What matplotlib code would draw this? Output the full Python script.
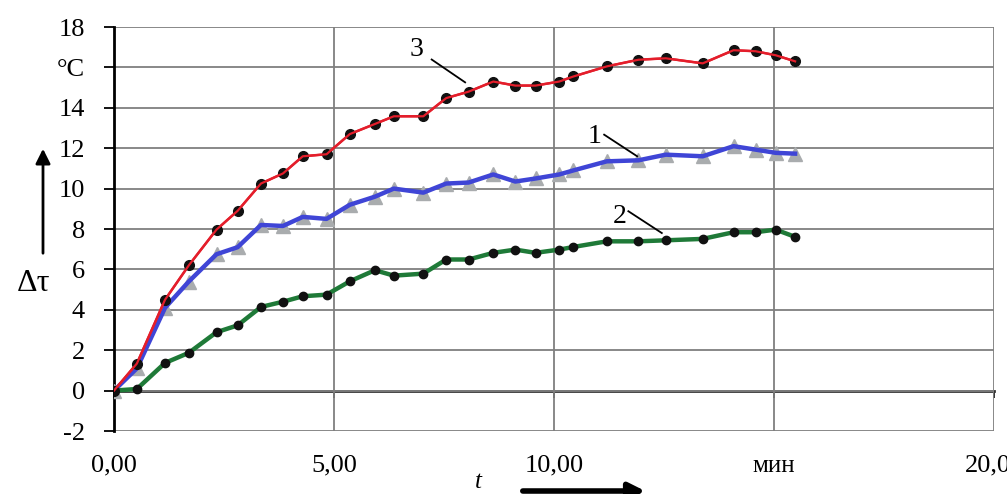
import matplotlib
matplotlib.use("Agg")
import matplotlib.pyplot as plt
from matplotlib.patches import FancyArrowPatch

plt.rcParams['font.family'] = ['Liberation Serif', 'DejaVu Serif']

# time, min
t = [0.00, 0.52, 1.16, 1.70, 2.33, 2.81, 3.34, 3.84, 4.29, 4.83, 5.36, 5.93,
     6.36, 7.03, 7.55, 8.06, 8.62, 9.12, 9.58, 10.12, 10.44, 11.20, 11.92,
     12.54, 13.38, 14.08, 14.58, 15.04, 15.48]

# temperature rise, degrees C
curve1 = [0.0, 1.1, 4.1, 5.4, 6.75, 7.1, 8.2, 8.15, 8.6, 8.5, 9.2, 9.6,
          10.0, 9.8, 10.25, 10.3, 10.7, 10.35, 10.5, 10.7, 10.9, 11.35, 11.4,
          11.68, 11.6, 12.1, 11.93, 11.77, 11.73]
curve2 = [0.0, 0.08, 1.37, 1.87, 2.89, 3.23, 4.14, 4.4, 4.67, 4.75, 5.41, 5.96,
          5.69, 5.79, 6.49, 6.49, 6.82, 6.98, 6.82, 6.98, 7.11, 7.39, 7.39,
          7.44, 7.51, 7.84, 7.84, 7.97, 7.61]
curve3 = [0.0, 1.34, 4.5, 6.2, 7.97, 8.9, 10.25, 10.75, 11.6, 11.7, 12.7, 13.2,
          13.58, 13.58, 14.48, 14.8, 15.3, 15.1, 15.1, 15.3, 15.55, 16.05, 16.38,
          16.45, 16.2, 16.85, 16.8, 16.6, 16.3]

x_ticks = [0, 5, 10, 15, 20]
x_labels = ["0,00", "5,00", "10,00", "мин", "20,00"]
y_ticks = [-2, 0, 2, 4, 6, 8, 10, 12, 14, 16, 18]
y_labels = ["-2", "0", "2", "4", "6", "8", "10", "12", "14", "°C", "18"]

W, H = 1007, 494
fig = plt.figure(figsize=(W / 100, H / 100), dpi=100)
ax = fig.add_axes([114 / W, 1 - 431 / H, (994 - 114) / W, (431 - 27) / H])

ax.set_xlim(0, 20)
ax.set_ylim(-2, 18)

grid_col = "#7f7f7f"
for v in y_ticks:
    ax.axhline(v, color=grid_col, lw=1.3, zorder=1)
for v in x_ticks[1:]:
    ax.axvline(v, color=grid_col, lw=1.3, zorder=1)

for s in ["top", "right", "bottom"]:
    ax.spines[s].set_visible(False)
ax.spines["left"].set_color("black")
ax.spines["left"].set_linewidth(2.0)

# horizontal axis line at zero with its tick marks
sec = ax.secondary_xaxis(0.1)
sec.set_xticks(x_ticks)
sec.tick_params(axis="x", length=5, width=1.3, color="#222222", labelbottom=False)
sec.spines["bottom"].set_color("#333333")
sec.spines["bottom"].set_linewidth(2.0)

ax.set_xticks(x_ticks)
ax.set_xticklabels(x_labels)
ax.tick_params(axis="x", length=0, pad=17, labelsize=19)
ax.set_yticks(y_ticks)
ax.set_yticklabels(y_labels)
ax.tick_params(axis="y", length=7, width=1.3, pad=14, labelsize=19)
for lab in ax.get_xticklabels():
    if lab.get_text() == "мин":
        lab.set_fontsize(18)

# curves
ax.plot(t, curve1, linestyle="none", marker="^", markersize=10,
        color="#a9acae", zorder=3)
ax.plot(t, curve1, color="#3f45d6", lw=3.2, zorder=4)
ax.plot(t, curve2, color="#1f7a38", lw=3.2, marker="o", markersize=6,
        markerfacecolor="#111111", markeredgecolor="#111111", zorder=5)
ax.plot(t, curve3, color="#e41e2b", lw=1.8, marker="o", markersize=7,
        markerfacecolor="#111111", markeredgecolor="#111111", zorder=6)
ax.plot(t, curve3, color="#e41e2b", lw=1.6, zorder=7)

# curve numbers with leader lines
labels = [("3", 6.88, 16.9, (7.22, 16.39), (7.98, 15.26)),
          ("1", 10.93, 12.59, (11.14, 12.67), (11.89, 11.6)),
          ("2", 11.5, 8.63, (11.69, 8.88), (12.45, 7.8))]
for txt, tx, ty, p0, p1 in labels:
    ax.text(tx, ty, txt, fontsize=20, ha="center", va="center", zorder=8)
    ax.plot([p0[0], p1[0]], [p0[1], p1[1]], color="black", lw=1.3, zorder=8)

# axis annotations
fig.text(34 / W, 1 - 283 / H, "Δτ", fontsize=23, ha="center", va="center")
fig.text(478 / W, 1 - 482 / H, "t", fontsize=18, style="italic",
         ha="center", va="center")
fig.add_artist(FancyArrowPatch((43, H - 256), (43, H - 146),
                               transform=None, arrowstyle="-|>",
                               mutation_scale=22, lw=2.0, color="black"))
fig.add_artist(FancyArrowPatch((520, 3), (648, 3),
                               transform=None, arrowstyle="-|>",
                               mutation_scale=24, lw=4.0, color="black"))

fig.savefig("out.png", dpi=100)
